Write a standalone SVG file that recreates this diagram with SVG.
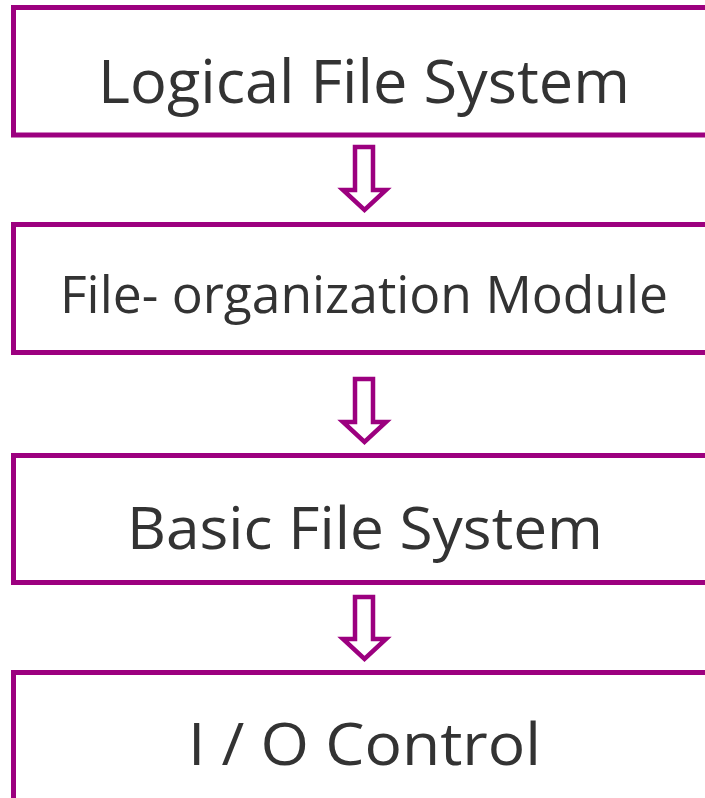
<svg xmlns="http://www.w3.org/2000/svg" width="705" height="798" viewBox="0 0 705 798">
<style>
.box{fill:#fff;stroke:#9c007f;stroke-width:5}
.arr{fill:#fff;stroke:#9c007f;stroke-width:4.5;stroke-linejoin:miter}
.t{font-family:"Open Sans","Noto Sans",sans-serif;fill:#333;text-anchor:middle}
</style>
<rect width="705" height="798" fill="#fff"/>
<g id="node1"><rect class="box" x="13.5" y="7.5" width="710" height="127.5"/><text class="t" x="364" y="103" font-size="61" textLength="532" lengthAdjust="spacingAndGlyphs">Logical File System</text></g>
<g id="node2"><rect class="box" x="13.5" y="224.5" width="710" height="128"/><text class="t" x="364" y="313" font-size="51" textLength="608" lengthAdjust="spacingAndGlyphs">File- organization Module</text></g>
<g id="node3"><rect class="box" x="13.5" y="455.5" width="710" height="127"/><text class="t" x="365" y="549" font-size="58" textLength="476" lengthAdjust="spacingAndGlyphs">Basic File System</text></g>
<g id="node4"><rect class="box" x="13.5" y="672.5" width="710" height="140"/><text class="t" x="364.5" y="765" font-size="58" textLength="353" lengthAdjust="spacingAndGlyphs">I / O Control</text></g>
<g id="connectors">
<path class="arr" d="M355,147 H373 V190 H386 L364.5,210 L343,190 H355 Z"/>
<path class="arr" d="M355,379 H373 V422 H386 L364.5,442 L343,422 H355 Z"/>
<path class="arr" d="M355,597 H373 V639 H386 L364.5,659 L343,639 H355 Z"/>
</g>
</svg>
